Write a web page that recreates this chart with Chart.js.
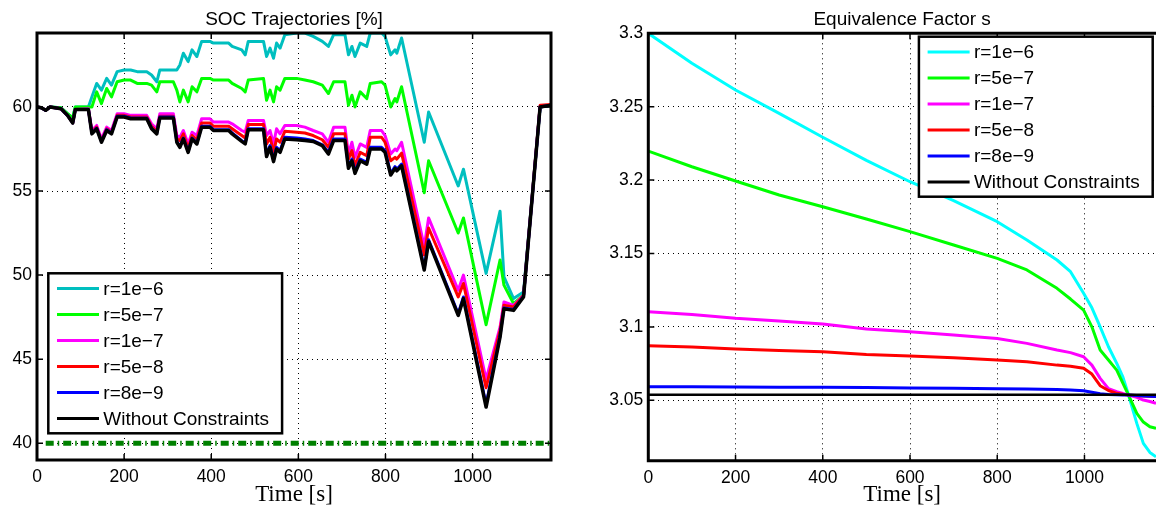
<!DOCTYPE html>
<html>
<head>
<meta charset="utf-8">
<script src="https://cdn.jsdelivr.net/npm/chart.js@4.4.1/dist/chart.umd.min.js"></script>
<style>
  html, body { margin: 0; padding: 0; background: #fff; overflow: hidden; }
  #wrap { position: relative; width: 1156px; height: 506px; }
  #socChart { position: absolute; left: 0; top: 0; }
  #sChart { position: absolute; left: 580px; top: 0; }
</style>
</head>
<body>
<div id="wrap">
  <canvas id="socChart" width="580" height="506"></canvas>
  <canvas id="sChart" width="576" height="506"></canvas>
</div>
<script>
// series (legend order)
const seriesNames = ['r=1e\u22126', 'r=5e\u22127', 'r=1e\u22127', 'r=5e\u22128', 'r=8e\u22129', 'Without Constraints'];
const socColors = ['#00BFBF', '#00FF00', '#FF00FF', '#FF0000', '#0000FF', '#000000'];
const sColors = ['#00FFFF', '#00FF00', '#FF00FF', '#FF0000', '#0000FF', '#000000'];

// ---- SOC trajectories [%] ----
const socTime = [0, 10, 20, 30, 55, 70, 82, 88, 118, 126, 137, 148, 160, 171, 184, 200, 215, 230, 252, 263,
  275, 282, 313, 321, 328, 336, 347, 356, 367, 378, 397, 405, 440, 448, 470, 478, 485, 520, 527, 535,
  543, 550, 558, 569, 596, 615, 634, 655, 669, 681, 707, 715, 723, 730, 742, 757, 765, 791, 799, 812,
  822, 826, 837, 889, 899, 967, 979, 1031, 1063, 1072, 1094, 1117, 1155, 1180];
const socR1e6 = [60, 59.95, 59.8, 60, 59.95, 59.6, 59.35, 60, 60, 60.6, 61.4, 61.0, 61.7, 61.3, 62.1, 62.2, 62.2, 62.1, 62.1, 61.9,
  61.5, 62.2, 62.2, 62.2, 62.5, 63.2, 62.7, 63.4, 63.0, 63.9, 63.9, 63.8, 63.8, 63.6, 63.4, 63.1, 63.9, 63.9, 63.0, 63.5,
  62.9, 63.8, 63.5, 64.3, 64.4, 64.4, 64.2, 63.9, 63.6, 64.3, 64.3, 63.1, 63.6, 63.0, 63.8, 63.6, 64.4, 64.4, 64.2, 63.1,
  63.4, 63.2, 64.1, 57.9, 59.7, 55.3, 56.3, 50.1, 53.8, 49.9, 48.6, 49.0, 60.0, 60.1];
const socR5e7 = [60, 59.95, 59.8, 60, 59.95, 59.6, 59.35, 60, 60, 60.0, 60.9, 60.2, 61.1, 60.6, 61.5, 61.6, 61.6, 61.4, 61.4, 61.3,
  60.9, 61.5, 61.5, 61.0, 60.3, 61.0, 60.3, 61.2, 60.9, 61.7, 61.7, 61.6, 61.6, 61.4, 61.1, 60.9, 61.6, 61.7, 60.4, 61.0,
  60.3, 61.2, 61.0, 61.7, 61.7, 61.6, 61.5, 61.3, 60.8, 61.5, 61.5, 60.1, 60.7, 60.0, 60.9, 60.5, 61.4, 61.5, 61.3, 60.0,
  60.5, 60.3, 61.2, 54.9, 56.8, 52.5, 53.4, 47.05, 50.9, 49.4, 48.3, 48.8, 60.0, 60.1];
const socR1e7 = [60, 59.95, 59.8, 60, 59.9, 59.5, 59.1, 59.85, 59.9, 58.6, 58.9, 58.1, 58.8, 58.6, 59.6, 59.6, 59.5, 59.5, 59.5, 59.0,
  58.7, 59.6, 59.6, 58.3, 58.2, 58.6, 57.8, 58.5, 58.3, 59.3, 59.3, 59.1, 59.1, 59.0, 58.6, 58.5, 59.2, 59.2, 58.3, 58.6,
  57.8, 58.7, 58.4, 58.9, 58.9, 58.8, 58.6, 58.4, 57.9, 58.8, 58.8, 57.2, 57.9, 57.0, 57.8, 57.6, 58.6, 58.6, 58.3, 57.2,
  57.5, 57.4, 57.9, 51.7, 53.4, 49.1, 50.0, 43.8, 46.9, 48.4, 48.2, 48.8, 60.05, 60.1];
const socR5e8 = [60, 59.95, 59.8, 60, 59.9, 59.5, 59.05, 59.85, 59.85, 58.5, 58.8, 58.0, 58.7, 58.5, 59.5, 59.5, 59.4, 59.4, 59.4, 58.85,
  58.55, 59.45, 59.45, 58.1, 58.0, 58.4, 57.55, 58.3, 58.05, 59.05, 59.05, 58.85, 58.85, 58.7, 58.3, 58.15, 58.95, 58.95, 57.8, 58.2,
  57.3, 58.1, 57.9, 58.55, 58.5, 58.45, 58.3, 58.05, 57.6, 58.4, 58.4, 56.9, 57.4, 56.5, 57.3, 57.1, 58.2, 58.2, 57.9, 56.8,
  57.0, 56.9, 57.25, 51.2, 52.8, 48.7, 49.5, 43.3, 46.7, 48.2, 48.1, 48.8, 60.1, 60.15];
const socR8e9 = [60, 59.95, 59.8, 60, 59.9, 59.5, 59.05, 59.85, 59.85, 58.45, 58.75, 57.95, 58.65, 58.45, 59.45, 59.45, 59.35, 59.35, 59.35, 58.75,
  58.45, 59.4, 59.4, 57.95, 57.65, 58.15, 57.35, 58.15, 57.85, 58.85, 58.85, 58.65, 58.65, 58.45, 58.0, 57.85, 58.7, 58.7, 57.15, 57.7,
  56.85, 57.6, 57.4, 58.2, 58.15, 58.1, 58.0, 57.75, 57.3, 58.1, 58.1, 56.45, 56.9, 56.15, 56.9, 56.7, 57.6, 57.6, 57.4, 56.05,
  56.45, 56.3, 56.6, 50.4, 52.1, 47.7, 48.7, 42.3, 46.4, 48.05, 47.95, 48.75, 60.0, 60.1];
const socFree = [60, 59.95, 59.8, 60, 59.9, 59.5, 59.05, 59.85, 59.85, 58.4, 58.7, 57.9, 58.6, 58.4, 59.4, 59.4, 59.3, 59.3, 59.3, 58.7,
  58.4, 59.35, 59.35, 57.9, 57.6, 58.1, 57.3, 58.1, 57.8, 58.8, 58.8, 58.6, 58.6, 58.4, 57.95, 57.8, 58.65, 58.65, 57.05, 57.6,
  56.75, 57.5, 57.3, 58.1, 58.05, 58.0, 57.95, 57.7, 57.2, 58.0, 58.0, 56.35, 56.8, 56.05, 56.8, 56.6, 57.5, 57.5, 57.3, 55.95,
  56.35, 56.2, 56.5, 50.3, 52.0, 47.6, 48.6, 42.15, 46.3, 48.0, 47.9, 48.7, 60.0, 60.1];
const socLimitTime = [20, 1180];
const socLimit = [40, 40];
const socXTicks = [0, 200, 400, 600, 800, 1000];
const socYTicks = [40, 45, 50, 55, 60];

// ---- Equivalence factor s ----
const sTime = [0, 100, 200, 300, 400, 500, 600, 700, 800, 868, 937, 968, 998, 1017, 1036, 1055, 1074, 1088, 1101, 1120, 1135, 1150, 1164];
const sR1e6 = [3.300, 3.2796, 3.2614, 3.2455, 3.2292, 3.2135, 3.1989, 3.1860, 3.1717, 3.1592, 3.1456, 3.1376, 3.1230, 3.1130, 3.1001, 3.0865, 3.0752, 3.0660, 3.0536, 3.0343, 3.0207, 3.0145, 3.0116];
const sR5e7 = [3.2198, 3.2091, 3.1994, 3.1899, 3.1819, 3.1735, 3.1649, 3.1558, 3.1467, 3.1388, 3.1263, 3.1190, 3.1115, 3.1001, 3.0843, 3.0775, 3.0706, 3.0618, 3.0536, 3.0411, 3.0352, 3.0320, 3.0309];
const sR1e7 = [3.1104, 3.1085, 3.1059, 3.1040, 3.1020, 3.0986, 3.0967, 3.0945, 3.0922, 3.0888, 3.0843, 3.0825, 3.0797, 3.0740, 3.0650, 3.0580, 3.0559, 3.0547, 3.0536, 3.0520, 3.0502, 3.0492, 3.0480];
const sR5e8 = [3.0872, 3.0864, 3.0849, 3.0840, 3.0831, 3.0813, 3.0802, 3.0791, 3.0775, 3.0763, 3.0740, 3.0733, 3.0718, 3.0679, 3.0600, 3.0567, 3.0548, 3.0541, 3.0536, 3.0532, 3.0530, 3.0528, 3.0527];
const sR8e9 = [3.0593, 3.0592, 3.0591, 3.0590, 3.0589, 3.0587, 3.0585, 3.0582, 3.0579, 3.0577, 3.0574, 3.0571, 3.0565, 3.0555, 3.0545, 3.0540, 3.0538, 3.0537, 3.0536, 3.0533, 3.0530, 3.0528, 3.0527];
const sFreeTime = [0, 1164];
const sFree = [3.0538, 3.0538];
const sXTicks = [0, 200, 400, 600, 800, 1000];
const sYTicks = [3.05, 3.1, 3.15, 3.2, 3.25, 3.3];

const sansFont = '"Liberation Sans", Arial, Helvetica, sans-serif';
const serifFont = '"Liberation Serif", "DejaVu Serif", serif';

const toPoints = (xs, ys) => xs.map((x, i) => ({ x: x, y: ys[i] }));

// MATLAB-like box, inner ticks and legend
const matlabAxes = {
  id: 'matlabAxes',
  afterDraw(chart, args, opts) {
    const { ctx, chartArea: a } = chart;
    const x = chart.scales.x, y = chart.scales.y;
    ctx.save();
    ctx.strokeStyle = '#000';
    ctx.lineWidth = 1.5;
    ctx.beginPath();
    x.ticks.forEach(t => {
      const px = x.getPixelForValue(t.value);
      ctx.moveTo(px, a.bottom); ctx.lineTo(px, a.bottom - 6);
      ctx.moveTo(px, a.top); ctx.lineTo(px, a.top + 6);
    });
    y.ticks.forEach(t => {
      const py = y.getPixelForValue(t.value);
      ctx.moveTo(a.left, py); ctx.lineTo(a.left + 6, py);
      if (opts.rightSide) { ctx.moveTo(a.right, py); ctx.lineTo(a.right - 6, py); }
    });
    ctx.stroke();

    ctx.lineWidth = 3;
    ctx.lineCap = 'square';
    ctx.beginPath();
    if (opts.rightSide) {
      ctx.rect(a.left, a.top, a.right - a.left, a.bottom - a.top);
    } else {
      ctx.moveTo(a.right, a.top); ctx.lineTo(a.left, a.top);
      ctx.lineTo(a.left, a.bottom); ctx.lineTo(a.right, a.bottom);
    }
    ctx.stroke();

    // legend box
    const items = chart.data.datasets.slice(0, seriesNames.length);
    ctx.font = '19px ' + sansFont;
    const rowH = 26;
    const textW = Math.max(...items.map(d => ctx.measureText(d.label).width));
    const w = 55 + textW + 13;
    const h = rowH * items.length + 4;
    let bx, by;
    if (opts.legendCorner === 'sw') { bx = a.left + 11.3; by = a.bottom - 26.7 - h; }
    else { bx = a.right - 3.3 - w; by = a.top + 3.4; }
    ctx.fillStyle = '#fff';
    ctx.fillRect(bx, by, w, h);
    ctx.lineWidth = 2.5;
    ctx.strokeRect(bx, by, w, h);
    ctx.textAlign = 'left';
    ctx.textBaseline = 'middle';
    ctx.lineCap = 'butt';
    items.forEach((d, i) => {
      const cy = by + rowH / 2 + 2.3 + i * rowH;
      ctx.strokeStyle = d.borderColor;
      ctx.lineWidth = 3;
      ctx.beginPath();
      ctx.moveTo(bx + 8.7, cy); ctx.lineTo(bx + 50.7, cy);
      ctx.stroke();
      ctx.fillStyle = '#000';
      ctx.fillText(d.label, bx + 55, cy + 1);
    });
    ctx.restore();
  }
};

function makeDatasets(xs, seriesList, colors, widths) {
  return seriesList.map((ys, i) => ({
    label: seriesNames[i],
    data: toPoints(xs, ys),
    borderColor: colors[i],
    borderWidth: widths[i],
    order: seriesList.length - i,
    pointRadius: 0,
    fill: false,
    tension: 0,
    borderJoinStyle: 'round'
  }));
}

function axisOptions(xMax, yMin, yMax, xTicks, yTicks, yWidth, xHeight, yFmt) {
  return {
    x: {
      type: 'linear', min: 0, max: xMax,
      afterBuildTicks: s => { s.ticks = xTicks.map(v => ({ value: v })); },
      afterFit: s => { s.height = xHeight; },
      grid: { color: '#000', lineWidth: 1, drawTicks: false },
      border: { display: false, dash: [1, 4] },
      ticks: { color: '#000', font: { family: sansFont, size: 17.5 }, padding: 7, maxRotation: 0, callback: v => String(v) },
      title: { display: true, text: 'Time [s]', color: '#000', font: { family: serifFont, size: 23, lineHeight: 1 }, padding: { top: 0, bottom: 0 } }
    },
    y: {
      type: 'linear', min: yMin, max: yMax,
      afterBuildTicks: s => { s.ticks = yTicks.map(v => ({ value: v })); },
      afterFit: s => { s.width = yWidth; },
      grid: { color: '#000', lineWidth: 1, drawTicks: false },
      border: { display: false, dash: [1, 4] },
      ticks: { color: '#000', font: { family: sansFont, size: 17.5 }, padding: 5, callback: yFmt }
    }
  };
}

// left: SOC trajectories
const socDatasets = makeDatasets(socTime, [socR1e6, socR5e7, socR1e7, socR5e8, socR8e9, socFree], socColors, [3, 3, 3, 3, 3, 3.5]);
socDatasets.push({
  label: 'SOC limit',
  data: toPoints(socLimitTime, socLimit),
  borderColor: '#008000',
  borderWidth: 5,
  borderDash: [8, 4, 1.5, 4],
  borderCapStyle: 'butt',
  order: 10,
  pointRadius: 0,
  fill: false
});

new Chart(document.getElementById('socChart'), {
  type: 'line',
  data: { datasets: socDatasets },
  options: {
    responsive: false,
    animation: false,
    events: [],
    devicePixelRatio: 1,
    layout: { padding: { left: 0, right: 29, top: 0, bottom: 0 } },
    scales: axisOptions(1180, 39.0, 64.4, socXTicks, socYTicks, 37, 46, v => String(v)),
    plugins: {
      legend: { display: false },
      tooltip: { enabled: false },
      title: { display: true, fullSize: false, text: 'SOC Trajectories [%]', color: '#000', font: { family: sansFont, size: 19, weight: 'normal' }, padding: { top: 8, bottom: 2.2 } },
      matlabAxes: { rightSide: true, legendCorner: 'sw' }
    }
  },
  plugins: [matlabAxes]
});

// right: equivalence factor
const sDatasets = makeDatasets(sTime, [sR1e6, sR5e7, sR1e7, sR5e8, sR8e9], sColors, [3, 3, 3, 3, 3]);
sDatasets.push({
  label: seriesNames[5],
  data: toPoints(sFreeTime, sFree),
  borderColor: sColors[5],
  borderWidth: 2.5,
  order: 0,
  pointRadius: 0,
  fill: false
});

new Chart(document.getElementById('sChart'), {
  type: 'line',
  data: { datasets: sDatasets },
  options: {
    responsive: false,
    animation: false,
    events: [],
    devicePixelRatio: 1,
    layout: { padding: { left: 0, right: 0, top: 0, bottom: 0 } },
    scales: axisOptions(1164, 3.0089, 3.3, sXTicks, sYTicks, 68.3, 45.3, v => String(+v.toFixed(2))),
    plugins: {
      legend: { display: false },
      tooltip: { enabled: false },
      title: { display: true, fullSize: false, text: 'Equivalence Factor s', color: '#000', font: { family: sansFont, size: 19, weight: 'normal' }, padding: { top: 8, bottom: 2.5 } },
      matlabAxes: { rightSide: false, legendCorner: 'ne' }
    }
  },
  plugins: [matlabAxes]
});
</script>
</body>
</html>
